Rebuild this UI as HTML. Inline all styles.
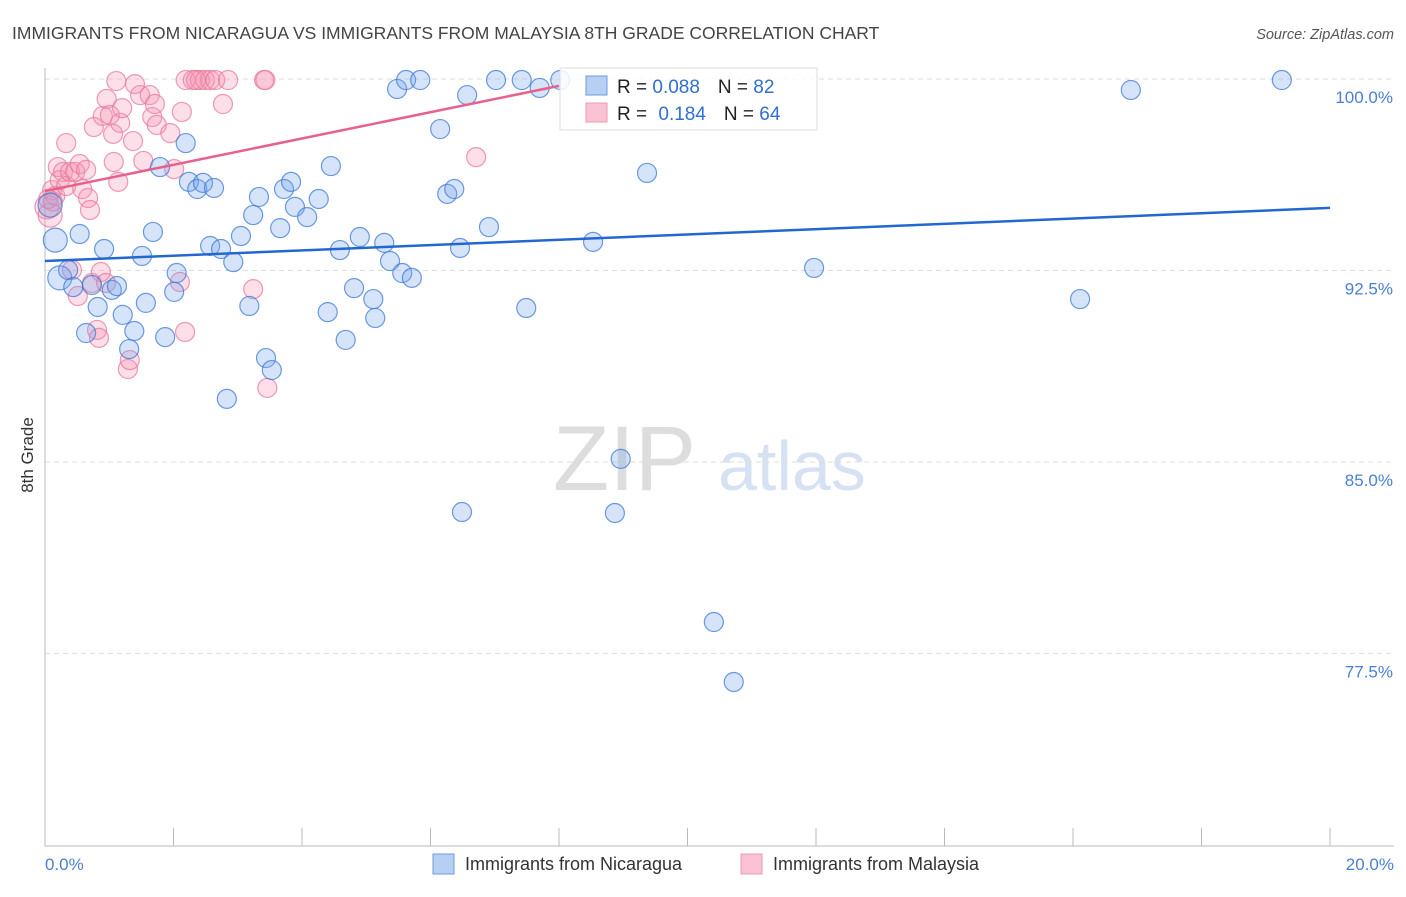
<!DOCTYPE html>
<html><head><meta charset="utf-8"><style>
body{margin:0;background:#fff;font-family:"Liberation Sans",sans-serif}
svg text{font-family:"Liberation Sans",sans-serif}
</style></head><body>
<svg id="chart" width="1406" height="892" xmlns="http://www.w3.org/2000/svg">
<text x="12" y="39" font-size="17.5" fill="#444">IMMIGRANTS FROM NICARAGUA VS IMMIGRANTS FROM MALAYSIA 8TH GRADE CORRELATION CHART</text>
<text x="1394" y="39" font-size="14.5" fill="#555" text-anchor="end" font-style="italic">Source: ZipAtlas.com</text>
<text x="553" y="490" font-size="92" fill="#ddd" font-family="Liberation Serif">ZIP</text>
<text x="718" y="490" font-size="70" fill="#d6e2f4">atlas</text>
<g id="grid"></g>
<g id="axes"></g>
<g id="pink"></g>
<g id="blue"></g>
<g id="lines"></g>
<text transform="translate(33,455) rotate(-90)" font-size="17" fill="#333" text-anchor="middle">8th Grade</text>
<text x="45" y="870" font-size="17" fill="#4a7fd4">0.0%</text>
<text x="1394" y="870" font-size="17" fill="#4a7fd4" text-anchor="end">20.0%</text>
<g>
<rect x="560" y="68" width="257" height="62" fill="rgba(255,255,255,0.85)" stroke="#ddd"/>
<rect x="586" y="76" width="21" height="19" fill="#b7cff3" stroke="#6b9be0"/>
<rect x="586" y="103" width="21" height="19" fill="#f9c3d3" stroke="#ee9ab4"/>
<text x="617" y="93" font-size="19" fill="#222">R = <tspan fill="#2f6fd4">0.088</tspan><tspan dx="18">N = </tspan><tspan fill="#2f6fd4">82</tspan></text>
<text x="617" y="120" font-size="19" fill="#222">R = <tspan dx="6" fill="#2f6fd4">0.184</tspan><tspan dx="18">N = </tspan><tspan fill="#2f6fd4">64</tspan></text>
</g>
<g>
<rect x="433" y="854" width="21" height="20" fill="#b7cff3" stroke="#6b9be0"/>
<text x="465" y="870" font-size="18" fill="#333">Immigrants from Nicaragua</text>
<rect x="741" y="854" width="21" height="20" fill="#f9c3d3" stroke="#ee9ab4"/>
<text x="773" y="870" font-size="18" fill="#333">Immigrants from Malaysia</text>
</g>
</svg>
<script>
const yTicks=[100,92.5,85,77.5];
const yTickLabels=["100.0%","92.5%","85.0%","77.5%"];
const xTicks=[0,2,4,6,8,10,12,14,16,18,20];
const blueX=[0.16,0.23,0.36,0.44,0.54,0.64,0.73,0.82,0.92,1.04,1.12,1.21,1.31,1.39,1.51,1.57,1.68,1.79,1.87,2.01,2.05,2.19,2.24,2.37,2.46,2.57,2.63,2.74,2.83,2.93,3.05,3.18,3.24,3.33,3.44,3.53,3.66,3.72,3.83,3.89,4.08,4.26,4.40,4.45,4.59,4.68,4.81,4.90,5.11,5.14,5.28,5.37,5.48,5.56,5.62,5.71,5.84,6.15,6.26,6.37,6.46,6.49,6.57,6.91,7.02,7.42,7.49,7.70,8.02,8.53,8.87,8.96,9.37,10.41,10.72,11.97,16.11,16.90,19.25,0.08];
const blueY=[93.69,92.21,92.52,91.85,93.93,90.05,91.93,91.07,93.34,91.74,91.89,90.76,89.42,90.13,93.07,91.23,94.01,96.55,89.89,91.66,92.40,97.49,95.97,95.69,95.93,93.46,95.73,93.34,87.47,92.83,93.85,91.11,94.67,95.38,89.07,88.60,94.16,95.69,95.97,94.99,94.59,95.30,90.87,96.59,93.30,89.78,91.81,93.81,91.38,90.64,93.58,92.87,99.61,92.40,99.96,92.21,99.96,98.04,95.50,95.69,93.38,83.04,99.37,94.20,99.96,99.96,91.03,99.65,99.96,93.62,83.00,85.12,96.32,78.73,76.38,92.60,91.38,99.57,99.96,95.06];
const pinkX=[0.03,0.08,0.11,0.16,0.20,0.23,0.28,0.33,0.33,0.39,0.42,0.47,0.51,0.54,0.58,0.64,0.67,0.70,0.73,0.76,0.81,0.84,0.87,0.90,0.95,0.96,1.01,1.06,1.07,1.11,1.14,1.17,1.20,1.29,1.32,1.37,1.40,1.48,1.53,1.63,1.67,1.71,1.74,1.95,2.01,2.10,2.13,2.18,2.19,2.30,2.41,2.49,2.57,2.65,2.77,2.85,3.24,3.41,3.46,6.71,3.43,0.05,0.12,2.35];
const pinkY=[94.99,94.67,95.65,95.42,96.55,96.04,96.36,97.49,95.81,96.36,92.52,96.36,91.50,96.67,95.69,96.44,95.34,94.87,92.01,98.12,90.17,89.86,92.44,98.55,92.01,99.22,98.59,97.85,96.75,99.92,95.97,98.28,98.86,88.64,88.99,97.57,99.80,99.37,96.79,99.37,98.51,99.02,98.20,97.88,96.47,92.05,98.71,90.09,99.96,99.96,99.96,99.96,99.96,99.96,99.02,99.96,91.77,99.96,87.90,96.94,99.96,95.3,95.2,99.96];
const blueTrend=[92.87,94.95];
const pinkTrend=[95.61,99.73];
const pinkTrendEnd=8;
const X0=45,X1=1330,Y100=79,PXPER=25.53;
function sx(v){return X0+(X1-X0)*v/20;}
function sy(v){return Y100+(100-v)*PXPER;}
const NS="http://www.w3.org/2000/svg";
function mk(tag,attrs,parent){const e=document.createElementNS(NS,tag);for(const k in attrs)e.setAttribute(k,attrs[k]);parent.appendChild(e);return e;}
const grid=document.getElementById('grid'),axes=document.getElementById('axes');
yTicks.forEach((t,i)=>{
 const l=mk('line',{x1:X0,x2:1394,y1:sy(t),y2:sy(t),stroke:'#ddd','stroke-dasharray':'5,4'},grid);
 
 
 const tx=mk('text',{x:1393,y:sy(t)+24,'font-size':17,fill:'#4a7fd4','text-anchor':'end'},axes);
 tx.textContent=yTickLabels[i];
 
 
});
const ya=mk('line',{x1:X0,x2:X0,y1:68,y2:846,stroke:'#bbb'},axes);


const xa=mk('line',{x1:X0,x2:1394,y1:846,y2:846,stroke:'#bbb'},axes);


xTicks.forEach(t=>{
 const l=mk('line',{x1:sx(t),x2:sx(t),y1:828,y2:846,stroke:'#bbb'},axes);
 
 
});
function dots(xs,ys,g,fill,stroke,name){
 xs.forEach((x,i)=>{
  const big=(x<0.25&&ys[i]<95.2&&ys[i]>92)?12:9.5;
  const c=mk('circle',{cx:sx(x),cy:sy(ys[i]),r:big,fill:fill,stroke:stroke,'stroke-width':1.2},g);
  
  
 });
}
dots(pinkX,pinkY,document.getElementById('pink'),'rgba(244,150,180,0.3)','rgba(232,120,155,0.75)','malaysia-point');
dots(blueX,blueY,document.getElementById('blue'),'rgba(120,165,235,0.3)','rgba(60,120,215,0.75)','nicaragua-point');
const lines=document.getElementById('lines');
const bl=mk('line',{x1:sx(0),y1:sy(blueTrend[0]),x2:sx(20),y2:sy(blueTrend[1]),stroke:'#2368d0','stroke-width':2.5},lines);


const pl=mk('line',{x1:sx(0),y1:sy(pinkTrend[0]),x2:sx(pinkTrendEnd),y2:sy(pinkTrend[1]),stroke:'#e8608c','stroke-width':2.5},lines);


</script>
</body></html>
